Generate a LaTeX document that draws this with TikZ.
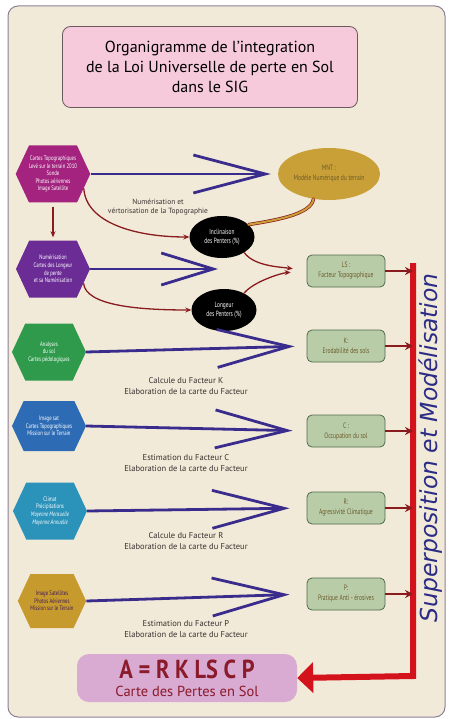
\documentclass[tikz,border=0pt]{standalone}
\usepackage{fontspec}
\setmainfont{PT Sans}
\newfontfamily\condfont[FakeStretch=0.72]{PT Sans}
\newfontfamily\resfont[FakeStretch=0.86]{PT Sans}
\newfontfamily\slopefont{DejaVu Sans}
\usetikzlibrary{shapes.geometric,shapes.symbols,arrows.meta,positioning}

\definecolor{fondbeige}{HTML}{F2EAD8}
\definecolor{cadregris}{HTML}{8C8098}
\definecolor{titrerose}{HTML}{F6CADB}
\definecolor{titrebord}{HTML}{6A5A60}
\definecolor{hexmag}{HTML}{A3237F}
\definecolor{hexpur}{HTML}{6B2C96}
\definecolor{hexvert}{HTML}{2F9A4C}
\definecolor{hexbleu}{HTML}{2D6CB5}
\definecolor{hexcyan}{HTML}{2B92BA}
\definecolor{hexocre}{HTML}{C79A2E}
\definecolor{mntocre}{HTML}{C9A037}
\definecolor{flechebleu}{HTML}{3A2C8C}
\definecolor{rougefonce}{HTML}{8A1B1E}
\definecolor{rougebarre}{HTML}{D3121C}
\definecolor{facvert}{HTML}{B9CCA8}
\definecolor{facbord}{HTML}{4F6B4C}
\definecolor{factexte}{HTML}{6B5A2A}
\definecolor{resrose}{HTML}{D9AAD2}
\definecolor{restexte}{HTML}{8A1B2A}
\definecolor{textebleu}{HTML}{2B2C85}
\definecolor{legende}{HTML}{3A3030}

\newcommand\ORGhexw{74}
\newcommand\ORGhexh{57}
\newcommand\ORGbarx{413}

\tikzset{
  hexa/.style={signal, signal to=west and east, signal pointer angle=130,
    minimum width=\ORGhexw pt, minimum height=\ORGhexh pt, inner sep=0pt,
    align=center, text=white, font=\condfont\fontsize{6.6}{7.6}\selectfont},
  pente/.style={ellipse, fill=black, minimum width=65pt, minimum height=42pt,
    inner sep=0pt, align=center, text=white, font=\condfont\fontsize{7.5}{9.5}\selectfont},
  facteur/.style={rectangle, rounded corners=5pt, fill=facvert, draw=facbord, line width=0.8pt,
    minimum width=78pt, minimum height=32pt, inner sep=1pt, align=center, text=factexte,
    font=\condfont\fontsize{7.8}{10}\selectfont},
  legtxt/.style={align=center, text=legende, font=\fontsize{8.5}{10.5}\selectfont},
  grande/.style={flechebleu, line width=2.8pt, -{Straight Barb[length=72pt, width=38pt]}},
  courbe/.style={rougefonce, line width=1.3pt, -{Stealth[length=6pt, width=5pt]}},
  petite/.style={rougefonce, line width=1.6pt, -{Stealth[length=8pt, width=8pt]}},
}

\begin{document}
\begin{tikzpicture}[x=1pt, y=-1pt]

\useasboundingbox (0,0) rectangle (448,719);
\draw[fill=fondbeige, draw=cadregris, line width=1pt, rounded corners=10pt] (8,6) rectangle (445,717);

% titre
\node[rectangle, rounded corners=8pt, fill=titrerose, draw=titrebord, line width=0.8pt,
  minimum width=295pt, minimum height=81pt, align=center,
  font=\fontsize{16}{20}\selectfont] (titre) at (210,67)
  {Organigramme de l'integration\\de la Loi Universelle de perte en Sol\\dans le  SIG};

% donnees de depart
\node[hexa, fill=hexmag] (carto) at (53,174)
  {Cartes Topographiques\\Levé sur le terrain 2010\\Sonde\\Photos aériennes\\Image Satellite};
\node[hexa, fill=hexpur] (numer) at (53,269)
  {Numérisation\\Cartes des Longeur\\de pente\\et sa Numérisation};
\node[hexa, fill=hexvert] (pedo) at (49,352)
  {Analyses\\du sol\\Cartes pédologiques};
\node[hexa, fill=hexbleu, minimum height=50pt] (occup) at (49,426)
  {Image sat\\Cartes Topographiques\\Mission sur le Terrain};
\node[hexa, fill=hexcyan] (climat) at (50,511)
  {Climat\\Précipitations\\\textit{Moyenne Mensuelle}\\\textit{Moyenne Annuelle}};
\node[hexa, fill=hexocre, text=hexpur!60!black, minimum width=68pt, minimum height=54pt] (sat) at (52,601)
  {Image Satellites\\Photos Aériennes\\Mission sur le Terrain};

% produits intermediaires
\node[ellipse, fill=mntocre, minimum width=102pt, minimum height=52pt, inner sep=0pt,
  align=center, text=factexte, font=\condfont\fontsize{7.8}{10}\selectfont] (mnt) at (329,174)
  {MNT :\\Modèle Numérique du terrain};
\node[pente] (incl) at (222,237) {Inclinaison\\des Penters (\%)};
\node[pente] (long) at (224,310) {Longeur\\des Penters (\%)};

% facteurs
\node[facteur] (ls) at (346,271) {LS :\\Facteur Topographique};
\node[facteur] (k) at (346,346) {K:\\Erodabilité des sols};
\node[facteur] (c) at (346,431) {C :\\Occupation du sol};
\node[facteur] (r) at (346,508) {R:\\Agressivité Climatique};
\node[facteur] (p) at (346,594) {P:\\Pratique Anti - érosives};

% resultat
\node[rectangle, rounded corners=12pt, fill=resrose, minimum width=220pt, minimum height=48pt,
  inner sep=1pt, align=center, text=restexte] (perte) at (187,678)
  {{\resfont\bfseries\fontsize{26}{24}\selectfont A = R K LS C P}\\[6pt]
   {\fontsize{14.5}{15}\selectfont Carte des Pertes en Sol}};

\node[rotate=90, text=textebleu, font=\slopefont\itshape\fontsize{23.5}{25}\selectfont] (superpos)
  at (431,448) {Superposition et Modélisation};

\coordinate (bartop) at (\ORGbarx,263);
\coordinate (barbot) at (\ORGbarx,676);
\coordinate (numtip) at (218,269);

% fleches bleues
\draw[grande, shorten >=7pt] (carto.east) -- (mnt.west);
\draw[grande, -{Straight Barb[length=52pt, width=32pt]}] (numer.east) -- (numtip);
\draw[grande, shorten >=12pt] (pedo.east) -- (k.west);
\draw[grande, shorten >=14pt] (occup.east) -- (c.west);
\draw[grande, shorten >=17pt] (climat.east) -- (r.west);
\draw[grande, shorten >=17pt] (sat.east) -- (p.west);

% legendes
\node[legtxt, font=\fontsize{7.5}{9.5}\selectfont] (legtopo) at (158,207) {Numérisation et\\vértorisation de la Topographie};
\node[legtxt] (legk) at (186,386) {Calcule du Facteur K\\Elaboration de la carte  du Facteur};
\node[legtxt] (legc) at (186,463) {Estimation du Facteur C\\Elaboration de la carte  du Facteur};
\node[legtxt] (legr) at (186,541) {Calcule du Facteur R\\Elaboration de la carte  du Facteur};
\node[legtxt] (legp) at (186,629) {Estimation du Facteur P\\Elaboration de la carte  du Facteur};

% fleches rouges
\draw[courbe, shorten <=4pt, shorten >=3pt] (carto.south) -- (numer.north);
\draw[courbe] (carto.-25) .. controls +(2,34) and +(-55,0) .. (incl.west);
\draw[courbe] (numer.-25) .. controls +(2,22) and +(-55,0) .. (long.west);
\draw[courbe, shorten >=14pt] (incl.-35) .. controls +(10,14) and +(-25,-4) .. (ls.west);
\draw[courbe, shorten >=16pt] (long.40) .. controls +(10,-12) and +(-25,2) .. (ls.west);
\draw[rougefonce, double=mntocre, double distance=2pt, line width=0.7pt, line cap=round]
  (incl.25) .. controls +(24,-4) and +(-2,16) .. (mnt.-122);

% superposition
\draw[rougebarre, line width=6pt, -{Triangle[length=16pt, width=30pt]}]
  (bartop) -- (barbot) -- (perte.east);
\foreach \fac in {ls,k,c,r,p}
  \draw[petite] (\fac.east) -- (\fac.east -| bartop);

\end{tikzpicture}
\end{document}
